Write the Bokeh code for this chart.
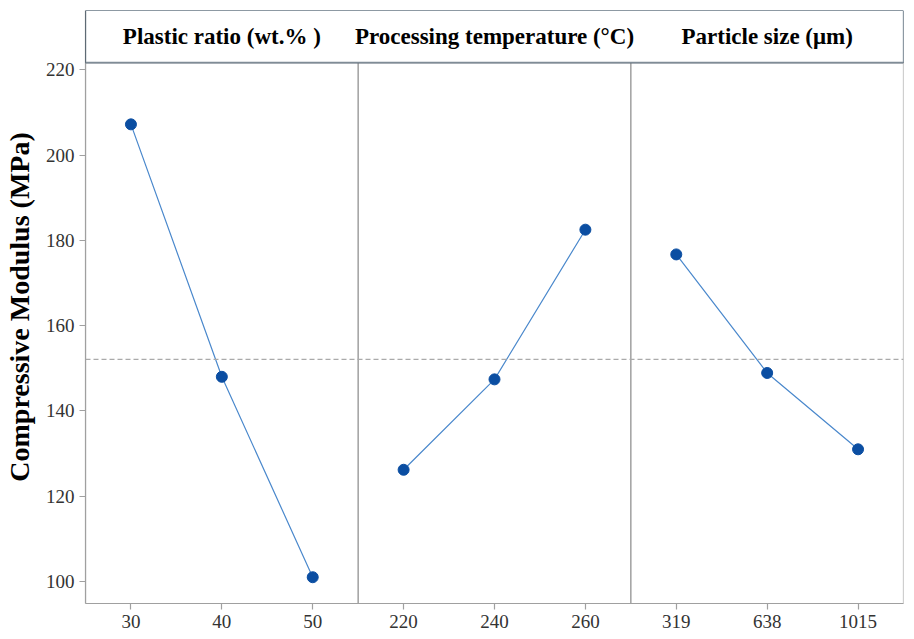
from bokeh.plotting import figure
from bokeh.models import Range1d, Span, FixedTicker, ColumnDataSource, BoxAnnotation
from bokeh.embed import file_html
from bokeh.resources import INLINE
from bokeh.core.properties import value

# ---- data ----
factor_names = ["Plastic ratio (wt.% )", "Processing temperature (°C)", "Particle size (μm)"]
plastic_levels = ["30", "40", "50"]
plastic_modulus = [207.2, 148.0, 101.0]
temp_levels = ["220", "240", "260"]
temp_modulus = [126.2, 147.4, 182.5]
size_levels = ["319", "638", "1015"]
size_modulus = [176.7, 148.9, 131.0]
y_ticks = [100, 120, 140, 160, 180, 200, 220]

groups = [(plastic_levels, plastic_modulus), (temp_levels, temp_modulus), (size_levels, size_modulus)]
all_vals = plastic_modulus + temp_modulus + size_modulus
grand_mean = sum(all_vals) / len(all_vals)

SERIF = "Liberation Serif"
n_total = sum(len(g[0]) for g in groups)
X0, X1 = 0.5, n_total + 0.5
Y0, Y_DATA_TOP, Y_HDR_TOP = 94.84, 221.7, 233.9

p = figure(width=910, height=630, x_range=Range1d(X0, X1), y_range=Range1d(Y0, Y_HDR_TOP),
           output_backend="svg", toolbar_location=None,
           min_border_left=84, min_border_right=7, min_border_top=10, min_border_bottom=10)
p.grid.visible = False
p.outline_line_color = None

p.add_layout(Span(location=grand_mean, dimension="width", line_color="#aaaaaa",
                  line_dash="5 3", line_width=1.2))

overrides = {}
tick_pos = []
centers = []
dividers = []
start = 1
for gi, (lv, vals) in enumerate(groups):
    xs = [start + i for i in range(len(lv))]
    centers.append(start + (len(lv) - 1) / 2)
    for x, l in zip(xs, lv):
        overrides[x] = l
        tick_pos.append(x)
    src = ColumnDataSource(dict(x=xs, y=vals))
    p.line("x", "y", source=src, line_color="#4a88cc", line_width=1.2)
    p.scatter("x", "y", source=src, size=11, fill_color="#0b4ea2", line_color="#0b4ea2")
    start += len(lv)
    if gi < len(groups) - 1:
        dividers.append(start - 0.5)

p.segment(x0=dividers, y0=[Y0] * len(dividers), x1=dividers, y1=[Y_DATA_TOP] * len(dividers),
          line_color="#a0a0a0", line_width=1.5)

# data-area border
p.add_layout(BoxAnnotation(left=X0, right=X1, bottom=Y0, top=Y_DATA_TOP, fill_color=None,
                           line_color="#a0a0a0", line_alpha=1.0, line_width=1.2, level="overlay"))
# header box
p.add_layout(BoxAnnotation(left=X0, right=X1, bottom=Y_DATA_TOP, top=Y_HDR_TOP, fill_color=None,
                           line_color="#1d3448", line_alpha=1.0, line_width=1.2, level="overlay"))
p.add_layout(BoxAnnotation(left=X0, right=X1, bottom=Y_DATA_TOP, top=Y_DATA_TOP, fill_color=None,
                           line_color="#7f8c96", line_alpha=1.0, line_width=1.5, level="overlay"))
hdr_y = (Y_DATA_TOP + Y_HDR_TOP) / 2
p.text(x=centers, y=[hdr_y] * len(centers), text=factor_names, text_align="center",
       text_baseline="middle", text_font=value(SERIF), text_font_style="bold",
       text_font_size="23px", text_color="#000000")

p.xaxis.ticker = FixedTicker(ticks=tick_pos)
p.xaxis.major_label_overrides = overrides
p.yaxis.ticker = FixedTicker(ticks=y_ticks)
for ax in (p.xaxis, p.yaxis):
    ax.axis_line_color = "#a0a0a0"
    ax.axis_line_width = 1.2
    ax.major_tick_line_color = "#a0a0a0"
    ax.major_tick_line_width = 1.2
    ax.major_tick_out = 6
    ax.major_tick_in = 0
    ax.minor_tick_line_color = None
    ax.major_label_text_font = SERIF
    ax.major_label_text_font_size = "19px"
    ax.major_label_text_color = "#333333"
    ax.major_label_standoff = 5

p.yaxis.axis_label = "Compressive Modulus (MPa)"
p.yaxis.axis_label_text_font = SERIF
p.yaxis.axis_label_text_font_style = "bold"
p.yaxis.axis_label_text_font_size = "28px"
p.yaxis.axis_label_text_color = "#000000"
p.yaxis.axis_label_standoff = 8

open("out.html", "w").write(file_html(p, INLINE))
